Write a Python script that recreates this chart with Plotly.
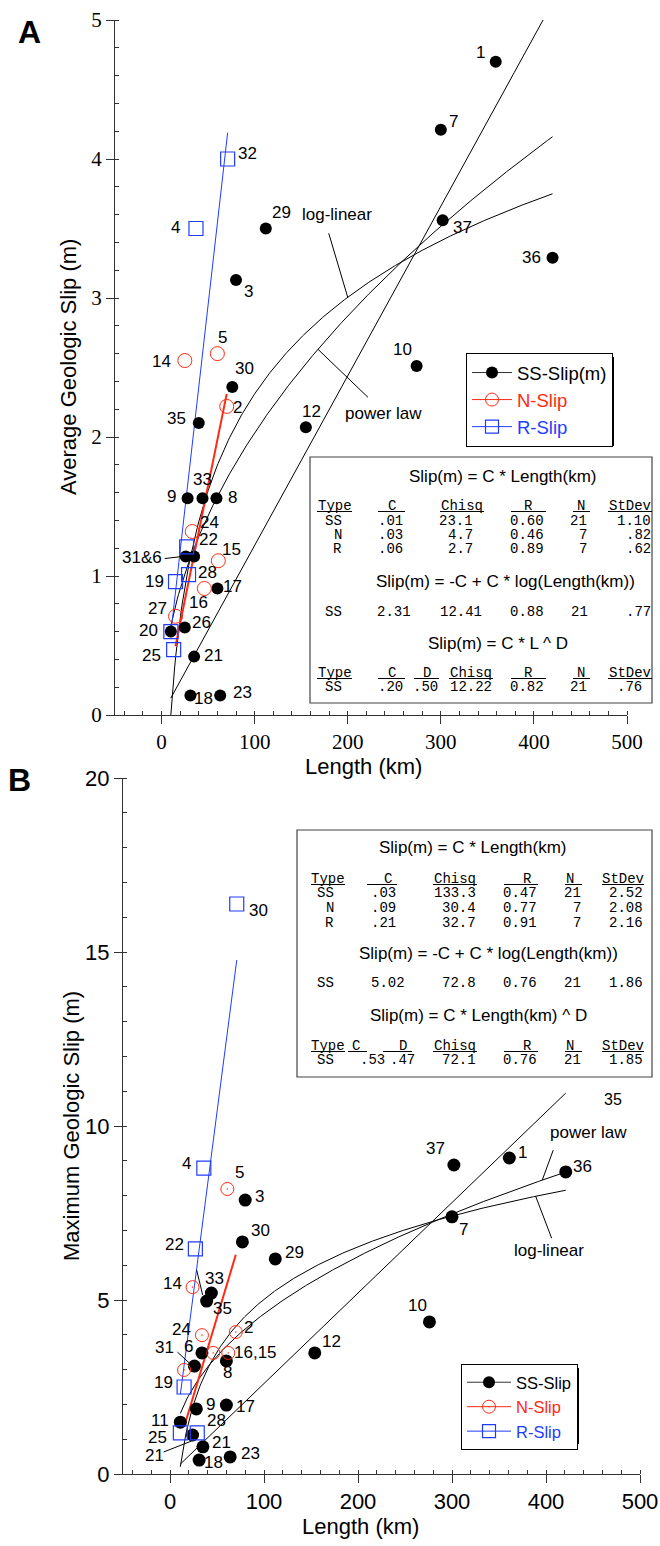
import numpy as np
import plotly.graph_objects as go

W, H = 660, 1546
RED = "#ff2a12"
BLUE = "#1f3dff"
SANS = "Liberation Sans, Arial, sans-serif"
SERIF = "Liberation Serif, Times New Roman, serif"
MONO = "Liberation Mono, Courier New, monospace"

# ---------------- Panel A : average slip ----------------
a_ss_label = ["1", "7", "37", "36", "29", "3", "10", "30", "35", "12", "9", "33", "8",
              "31&6", "", "17", "26", "20", "21", "18", "23"]
a_ss_len = [359, 300, 302, 420, 112, 80, 274, 76, 40, 155, 28, 44, 59, 26, 35, 60, 25, 10, 35, 31, 63]
a_ss_slip = [4.70, 4.21, 3.56, 3.29, 3.50, 3.13, 2.51, 2.36, 2.10, 2.07, 1.56, 1.56, 1.56,
             1.14, 1.14, 0.91, 0.63, 0.60, 0.42, 0.14, 0.14]
a_n_label = ["2", "24", "15", "16", "27", "14", "5"]
a_n_len = [70, 33, 61, 46, 15, 25, 60]
a_n_slip = [2.22, 1.32, 1.11, 0.91, 0.71, 2.55, 2.60]
a_r_label = ["22", "28", "19", "", "25", "4", "32"]
a_r_len = [27, 29, 15, 10, 13, 37, 71]
a_r_slip = [1.21, 1.01, 0.96, 0.60, 0.47, 3.50, 4.00]

# fit parameters
a_lin_ss, a_lin_n, a_lin_r = 0.0122, 0.033, 0.059
a_log_c = 2.31
a_pow_c, a_pow_d = 0.203, 0.50

# ---------------- Panel B : maximum slip ----------------
b_ss_label = ["30", "29", "33", "35", "31", "6", "8", "9", "17", "11", "21", "21", "18", "23",
              "3", "37", "1", "36", "7", "10", "12"]
b_ss_len = [77, 112, 44, 39, 26, 34, 60, 28, 60, 11, 24, 35, 31, 64, 80, 302, 361, 421, 300, 276, 154]
b_ss_slip = [6.67, 6.18, 5.20, 4.97, 3.10, 3.48, 3.25, 1.87, 1.98, 1.49, 1.12, 0.78, 0.40, 0.49,
             7.87, 8.88, 9.08, 8.68, 7.39, 4.37, 3.48]
b_n_label = ["14", "24", "2", "", "16,15", "", "5"]
b_n_len = [24, 34, 70, 46, 62, 15, 61]
b_n_slip = [5.37, 3.99, 4.08, 3.48, 3.48, 2.99, 8.19]
b_r_label = ["22", "19", "25", "28", "4", "30"]
b_r_len = [27, 15, 11, 29, 36, 71]
b_r_slip = [6.47, 2.50, 1.18, 1.18, 8.79, 16.38]
b_stray_label = "35"
b_stray_xy = (471, 10.75)

b_lin_ss, b_lin_n, b_lin_r = 0.026, 0.09, 0.208
b_log_c = 5.02
b_pow_c, b_pow_d = 0.604, 0.441

# ---------------- tables ----------------
a_eq = ["Slip(m) = C * Length(km)", "Slip(m) = -C + C * log(Length(km))", "Slip(m) = C * L ^ D"]
b_eq = ["Slip(m) = C * Length(km)", "Slip(m) = -C + C * log(Length(km))", "Slip(m) = C * Length(km) ^ D"]
hdr1 = ["Type", "C", "Chisq", "R", "N", "StDev"]
hdr3 = ["Type", "C", "D", "Chisq", "R", "N", "StDev"]
a_t1 = [["SS", ".01", "23.1", "0.60", "21", "1.10"],
        ["N", ".03", "4.7", "0.46", "7", ".82"],
        ["R", ".06", "2.7", "0.89", "7", ".62"]]
a_t2 = [["SS", "2.31", "12.41", "0.88", "21", ".77"]]
a_t3 = [["SS", ".20", ".50", "12.22", "0.82", "21", ".76"]]
b_t1 = [["SS", ".03", "133.3", "0.47", "21", "2.52"],
        ["N", ".09", "30.4", "0.77", "7", "2.08"],
        ["R", ".21", "32.7", "0.91", "7", "2.16"]]
b_t2 = [["SS", "5.02", "72.8", "0.76", "21", "1.86"]]
b_t3 = [["SS", ".53", ".47", "72.1", "0.76", "21", "1.85"]]

# ---------------- label offsets (px, right / down) ----------------
a_ss_off = [(-15, -9), (13, -8), (20, 7), (-21, 0), (16, -16), (12, 12), (-14, -17), (12, -18),
            (-22, -5), (6, -16), (-16, -2), (0, -19), (16, -1), (-44, 1), (0, 0), (15, -2),
            (17, -5), (-22, -1), (19, -1), (13, 3), (22, -3)]
a_n_off = [(11, 1), (17, -9), (13, -11), (-6, 14), (-18, -8), (-23, 1), (5, -16)]
a_r_off = [(22, -7), (19, -2), (-21, 0), (0, 0), (-22, 6), (-20, -1), (20, -5)]
b_ss_off = [(18, -11), (19, -6), (3, -15), (16, 7), (-30, -19), (-13, -6), (1, 12), (14, -4),
            (19, 1), (-20, -2), (-38, 20), (19, -4), (14, 2), (20, -3), (14, -4), (-18, -16),
            (13, -6), (17, -5), (11, 13), (-12, -16), (17, -11)]
b_n_off = [(-20, -4), (-20, -6), (13, -5), (0, 0), (27, 0), (0, 0), (12, -16)]
b_r_off = [(-21, -4), (-21, -5), (-23, 5), (19, -12), (-17, -5), (22, 7)]


def PX(x):
    return x / W


def PY(y):
    return 1 - y / H


fig = go.Figure()
annotations = []
shapes = []


def text_at(x, y, t, size=17, family=SANS, xanchor="center", angle=0):
    annotations.append(dict(x=PX(x), y=PY(y), xref="paper", yref="paper", text=t, showarrow=False,
                            xanchor=xanchor, yanchor="middle", textangle=angle,
                            font=dict(family=family, size=size, color="black")))


def lin(c):
    return lambda L: c * np.asarray(L, dtype=float)


def loglin(c):
    return lambda L: -c + c * np.log10(np.asarray(L, dtype=float))


def power(c, d):
    return lambda L: c * np.asarray(L, dtype=float) ** d


def add_line(xs, f, xa, ya, color="black", width=1):
    L = np.linspace(min(xs), max(xs), 300)
    fig.add_trace(go.Scatter(x=L, y=f(L), mode="lines", line=dict(color=color, width=width),
                             xaxis=xa, yaxis=ya, showlegend=False, hoverinfo="skip"))


def add_points(xs, ys, labels, offs, xa, ya, marker):
    fig.add_trace(go.Scatter(x=xs, y=ys, mode="markers", marker=marker, xaxis=xa, yaxis=ya,
                             showlegend=False, hoverinfo="x+y"))
    for x, y, t, (dx, dy) in zip(xs, ys, labels, offs):
        if t:
            annotations.append(dict(x=x, y=y, xref=xa, yref=ya, text=t, showarrow=False,
                                    xshift=dx, yshift=-dy, xanchor="center", yanchor="middle",
                                    font=dict(family=SANS, size=17, color="black")))


def leader(xa, ya, L, f, d0, d1):
    shapes.append(dict(type="line", xref=xa, yref=ya, xsizemode="pixel", ysizemode="pixel",
                       xanchor=L, yanchor=float(f(L)), x0=d0[0], y0=-d0[1], x1=d1[0], y1=-d1[1],
                       line=dict(color="black", width=1)))


SS_M = lambda s: dict(symbol="circle", size=s, color="black")
N_M = lambda s, sym: dict(symbol=sym, size=s, color=RED, line=dict(color=RED, width=1))
R_M = lambda s: dict(symbol="square-open", size=s, color=BLUE, line=dict(color=BLUE, width=1.2))

# ---- Panel A lines
fa_lin = lin(a_lin_ss)
fa_log = loglin(a_log_c)
fa_pow = power(a_pow_c, a_pow_d)
add_line(a_ss_len, fa_lin, "x", "y")
add_line(a_ss_len, fa_log, "x", "y")
add_line(a_ss_len, fa_pow, "x", "y")
add_line(a_r_len, lin(a_lin_r), "x", "y", BLUE, 1)
add_line(a_n_len, lin(a_lin_n), "x", "y", RED, 2)
add_points(a_ss_len, a_ss_slip, a_ss_label, a_ss_off, "x", "y", SS_M(12))
add_points(a_n_len, a_n_slip, a_n_label, a_n_off, "x", "y", N_M(14, "circle-open"))
add_points(a_r_len, a_r_slip, a_r_label, a_r_off, "x", "y", R_M(14))

# ---- Panel B lines
fb_lin = lin(b_lin_ss)
fb_log = loglin(b_log_c)
fb_pow = power(b_pow_c, b_pow_d)
add_line(b_ss_len, fb_lin, "x2", "y2")
add_line(b_ss_len, fb_log, "x2", "y2")
add_line(b_ss_len, fb_pow, "x2", "y2")
add_line(b_r_len, lin(b_lin_r), "x2", "y2", BLUE, 1)
add_line(b_n_len, lin(b_lin_n), "x2", "y2", RED, 2)
add_points(b_ss_len, b_ss_slip, b_ss_label, b_ss_off, "x2", "y2", SS_M(13))
add_points(b_n_len, b_n_slip, b_n_label, b_n_off, "x2", "y2", N_M(13, "circle-open-dot"))
add_points(b_r_len, b_r_slip, b_r_label, b_r_off, "x2", "y2", R_M(14))

# ---- legends (legend-only entries)
for leg, xa, ya, names in [("legend", "x", "y", ["SS-Slip(m)", "N-Slip", "R-Slip"]),
                           ("legend2", "x2", "y2", ["SS-Slip", "N-Slip", "R-Slip"])]:
    fig.add_trace(go.Scatter(x=[None], y=[None], mode="lines+markers", name=names[0],
                             line=dict(color="#333", width=1), marker=SS_M(12),
                             legend=leg, xaxis=xa, yaxis=ya))
    fig.add_trace(go.Scatter(x=[None], y=[None], mode="lines+markers",
                             name=f"<span style='color:{RED}'>{names[1]}</span>",
                             line=dict(color=RED, width=1),
                             marker=N_M(13, "circle-open" if leg == "legend" else "circle-open-dot"),
                             legend=leg, xaxis=xa, yaxis=ya))
    fig.add_trace(go.Scatter(x=[None], y=[None], mode="lines+markers",
                             name=f"<span style='color:{BLUE}'>{names[2]}</span>",
                             line=dict(color=BLUE, width=1), marker=R_M(13),
                             legend=leg, xaxis=xa, yaxis=ya))

# ---- curve labels with leaders
text_at(337, 215, "log-linear")
text_at(383, 413, "power law")
leader("x", "y", 200, fa_log, (0, 0), (-19, -64))
leader("x", "y", 168, fa_pow, (0, 0), (50, 48))
leader("x", "y", a_ss_len[13], lambda L: a_ss_slip[13], (-4, 0), (-21, 2))

text_at(588, 1132, "power law")
text_at(549, 1250, "log-linear")
leader("x2", "y2", 396, fb_pow, (0, 0), (11, -30))
leader("x2", "y2", 389, fb_log, (0, 0), (16, 42))
leader("x2", "y2", b_ss_len[3], lambda L: b_ss_slip[3], (-4, -6), (-10, -31))
leader("x2", "y2", b_ss_len[4], lambda L: b_ss_slip[4], (-17, -14), (-5, -3))
leader("x2", "y2", b_ss_len[10], lambda L: b_ss_slip[10], (-29, 17), (-1, 6))
annotations.append(dict(x=b_stray_xy[0], y=b_stray_xy[1], xref="x2", yref="y2", text=b_stray_label,
                        showarrow=False, xanchor="center", yanchor="middle",
                        font=dict(family=SANS, size=16, color="black")))


# ---- tables
def table(box, eqs, eq_pos, h1_pos, h1_ul, rows1_y, cols1, t1,
          row2_y, cols2, t2, h3_pos, h3_ul, row3_y, cols3, t3):
    shapes.append(dict(type="rect", xref="paper", yref="paper", x0=PX(box[0]), x1=PX(box[2]),
                       y0=PY(box[3]), y1=PY(box[1]), line=dict(color="#444", width=1.2),
                       fillcolor="white", layer="above"))
    for t, (x, y) in zip(eqs, eq_pos):
        text_at(x, y, t)
    for hdr, (cx, y), ul in [(hdr1, h1_pos, h1_ul), (hdr3, h3_pos, h3_ul)]:
        for t, x, (u0, u1) in zip(hdr, cx, ul):
            text_at(x, y, t, size=14, family=MONO)
            shapes.append(dict(type="line", xref="paper", yref="paper", x0=PX(u0), x1=PX(u1),
                               y0=PY(y + 5.5), y1=PY(y + 5.5), line=dict(color="black", width=1),
                               layer="above"))
    for rows, ys, cols in [(t1, rows1_y, cols1), (t2, [row2_y], cols2), (t3, [row3_y], cols3)]:
        for row, y in zip(rows, ys):
            for t, x in zip(row, cols):
                text_at(x, y, t, size=14, family=MONO, xanchor="right")


table((310, 457, 652, 703), a_eq, [(503, 476), (505, 581), (498, 643)],
      ([334.5, 392, 462, 528, 581, 630], 506),
      [(317, 352), (378, 405), (440, 484), (511, 546), (573, 590), (608, 652)],
      [521, 535, 549], [344, 405, 475, 546, 589, 653], a_t1,
      612, [344, 413, 484, 546, 590, 653], a_t2,
      ([334.5, 392, 427, 471, 528, 581, 630], 673),
      [(317, 352), (378, 405), (414, 439), (449, 493), (511, 546), (573, 590), (608, 652)],
      687, [344, 405, 440, 494, 546, 589, 644], a_t3)

table((297, 830, 652, 1077), b_eq, [(473, 847), (488, 953), (478, 1015)],
      ([328, 388, 455, 527, 570, 623], 879),
      [(311, 345), (367, 397), (433, 477), (504, 538), (565, 582), (602, 644)],
      [893, 908, 923], [336, 398, 478, 539, 583, 645], b_t1,
      983, [336, 407, 478, 539, 583, 645], b_t2,
      ([328, 356, 403, 455, 527, 570, 623], 1046),
      [(311, 345), (348, 367), (383, 412), (433, 477), (504, 538), (565, 582), (602, 644)],
      1060, [336, 387, 417, 478, 539, 583, 645], b_t3)

# ---- axis titles & panel letters
text_at(68, 367, "Average Geologic Slip (m)", size=22, angle=-90)
text_at(363, 767, "Length (km)", size=22)
text_at(71, 1126, "Maximum Geologic Slip (m)", size=22, angle=-90)
text_at(360, 1526, "Length (km)", size=22)
text_at(29, 32, "<b>A</b>", size=32)
text_at(19, 780, "<b>B</b>", size=32)

# legend drop shadows
shapes.append(dict(type="rect", xref="paper", yref="paper", x0=PX(470), x1=PX(614),
                   y0=PY(446), y1=PY(357), fillcolor="black", line=dict(width=0), layer="above"))
shapes.append(dict(type="rect", xref="paper", yref="paper", x0=PX(465), x1=PX(579),
                   y0=PY(1444), y1=PY(1368), fillcolor="black", line=dict(width=0), layer="above"))

AX = dict(showline=True, linecolor="#333", linewidth=1, ticks="outside", ticklen=8, tickwidth=1,
          tickcolor="#333", showgrid=False, zeroline=False, automargin=False)

fig.update_layout(
    width=W, height=H, margin=dict(l=0, r=0, t=0, b=0, autoexpand=False),
    paper_bgcolor="white", plot_bgcolor="white",
    xaxis=dict(**AX, domain=[PX(115), PX(627)], range=[-50, 500], anchor="y", tick0=0, dtick=100,
               minor=dict(ticks="inside", ticklen=4, dtick=20, tick0=0, tickcolor="#333"),
               tickfont=dict(family=SERIF, size=21, color="black")),
    yaxis=dict(**AX, domain=[PY(715), PY(20)], range=[0, 5], anchor="x", dtick=1,
               minor=dict(ticks="inside", ticklen=4, dtick=0.2, tickcolor="#333"),
               tickfont=dict(family=SERIF, size=21, color="black")),
    xaxis2=dict(**AX, domain=[PX(123), PX(640)], range=[-50, 500], anchor="y2", tick0=0, dtick=100,
                minor=dict(ticks="inside", ticklen=4, dtick=20, tick0=0, tickcolor="#333"),
                tickfont=dict(family=SANS, size=22, color="black")),
    yaxis2=dict(**AX, domain=[PY(1474), PY(778)], range=[0, 20], anchor="x2", dtick=5,
                minor=dict(ticks="inside", ticklen=4, dtick=1, tickcolor="#333"),
                tickfont=dict(family=SANS, size=22, color="black")),
    legend=dict(x=PX(466), y=PY(353), xanchor="left", yanchor="top", bgcolor="white",
                bordercolor="black", borderwidth=1, itemwidth=40,
                font=dict(family=SANS, size=18.5, color="black")),
    legend2=dict(x=PX(461), y=PY(1364), xanchor="left", yanchor="top", bgcolor="white",
                 bordercolor="black", borderwidth=1, itemwidth=44,
                 font=dict(family=SANS, size=16.5, color="black")),
    annotations=annotations, shapes=shapes, showlegend=True,
)

fig.write_html("out.html")
